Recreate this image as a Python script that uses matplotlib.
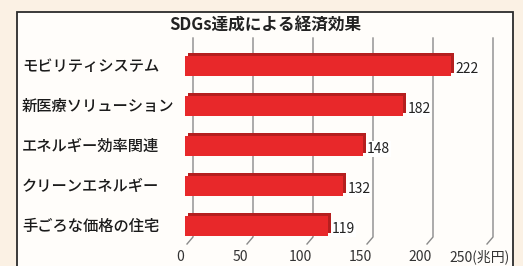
import matplotlib
matplotlib.use("Agg")
import matplotlib.pyplot as plt
import matplotlib.transforms as mtransforms
from matplotlib.patches import Rectangle
from matplotlib.lines import Line2D

plt.rcParams['font.family'] = ['Noto Sans CJK JP', 'DejaVu Sans']

title = "SDGs達成による経済効果"
categories = ["モビリティシステム", "新医療ソリューション", "エネルギー効率関連",
              "クリーンエネルギー", "手ごろな価格の住宅"]
values = [222, 182, 148, 132, 119]
tick_values = [0, 50, 100, 150, 200, 250]
tick_labels = ["0", "50", "100", "150", "200", "250(兆円)"]

W, H = 523, 266
fig = plt.figure(figsize=(W / 100, H / 100), dpi=100)
fig.patch.set_facecolor("#fbf1e4")

# frame
fig.add_artist(Rectangle((17 / W, -0.1), (513 - 17) / W, (H - 12) / H + 0.1,
                         transform=fig.transFigure, facecolor="#fffdfa",
                         edgecolor="#2b2b2b", linewidth=1.3, zorder=0))

ax = fig.add_axes([185 / W, (H - 246) / H, 324 / W, 200 / H])
ax.set_zorder(3)
ax.set_xlim(0, 270)
ax.set_ylim(len(categories) - 0.5, -0.5)
ax.axis("off")
ax.patch.set_alpha(0)

ypos = list(range(len(categories)))

# grid lines (3D-ish walls)
for v in tick_values:
    x0 = ax.transData.transform((v, 0))[0]
    xs = [x0 + 8, x0 + 8, x0 + 2]
    ys = [H - 38, H - 237, H - 244]
    fig.add_artist(Line2D(xs, ys, transform=None, color="#8a8a8a", linewidth=1.0, zorder=1))

# bars with depth
depth = mtransforms.ScaledTranslation(3 / 100, 3 / 100, fig.dpi_scale_trans)
ax.barh(ypos, values, height=0.48, color="#b51f1f", zorder=2,
        transform=ax.transData + depth)
ax.barh(ypos, values, height=0.48, color="#e8282a", zorder=3)

# value labels
lab_off = mtransforms.ScaledTranslation(4 / 100, -3 / 100, fig.dpi_scale_trans)
for y, v in zip(ypos, values):
    ax.text(v, y, str(v), transform=ax.transData + lab_off, ha="left", va="center",
            fontsize=10, color="#222222", zorder=4,
            bbox=dict(facecolor="white", edgecolor="none", pad=0.6))

# category labels
for y, c in zip(ypos, categories):
    ax.text(22 / W, y, c, transform=mtransforms.blended_transform_factory(fig.transFigure, ax.transData),
            ha="left", va="center", fontsize=11, fontweight="medium", color="#1a1a1a", zorder=4)

# tick labels
tick_off = mtransforms.ScaledTranslation(-5 / 100, 0, fig.dpi_scale_trans)
btr = mtransforms.blended_transform_factory(ax.transData, fig.transFigure) + tick_off
for v, t in zip(tick_values, tick_labels):
    ax.text(v, (H - 257) / H, t, transform=btr, ha="center", va="center",
            fontsize=10, color="#333333", zorder=4)

fig.text(265 / W, (H - 26) / H, title, ha="center", va="center",
         fontsize=12, fontweight="bold", color="#222222")

fig.savefig("out.png", dpi=100, facecolor=fig.get_facecolor())
